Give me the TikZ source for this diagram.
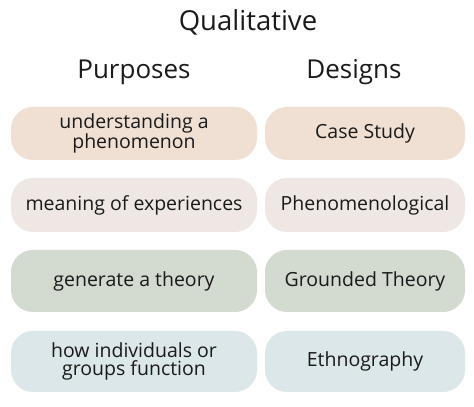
\documentclass[tikz,border=0pt]{standalone}
\usepackage{fontspec}
\setmainfont{Open Sans}
\definecolor{rowA}{HTML}{F0E0D4}
\definecolor{rowB}{HTML}{EFE7E3}
\definecolor{rowC}{HTML}{D3DAD0}
\definecolor{rowD}{HTML}{DCE7E9}
\definecolor{ink}{HTML}{1A1A1A}

\begin{document}
\begin{tikzpicture}[x=1pt, y=1pt,
    pill/.style={rounded corners=22pt, inner sep=0pt, align=center,
                 text=ink, font=\fontsize{19.5}{18.5}\selectfont},
    purp/.style={pill, minimum width=246pt},
    desg/.style={pill, minimum width=200pt},
    head/.style={text=ink, font=\fontsize{26}{28}\selectfont}]
        \useasboundingbox[fill=white] (0,0) rectangle (474,407);
        \node[head, font=\fontsize{27.5}{30}\selectfont] (title) at (248,385){Qualitative};
        \node[head] (purposes) at (134,335){Purposes};
        \node[head] (designs) at (354,335){Designs};
        % purposes column
        \node[purp, fill=rowA, minimum height=53pt] (p1) at (134,273.5)
              {understanding a\\phenomenon};
        \node[purp, fill=rowB, minimum height=54pt] (p2) at (134,202)
              {meaning of experiences};
        \node[purp, fill=rowC, minimum height=62pt] (p3) at (134,126)
              {generate a theory};
        \node[purp, fill=rowD, minimum height=61pt] (p4) at (134,45.5)
              {how individuals or\\groups function};
        % designs column
        \node[desg, fill=rowA, minimum height=53pt] (d1) at (365,273.5)
              {Case Study};
        \node[desg, fill=rowB, minimum height=54pt] (d2) at (365,202)
              {Phenomenological};
        \node[desg, fill=rowC, minimum height=62pt] (d3) at (365,126)
              {Grounded Theory};
        \node[desg, fill=rowD, minimum height=61pt] (d4) at (365,45.5)
              {Ethnography};
      \end{tikzpicture}
\end{document}
